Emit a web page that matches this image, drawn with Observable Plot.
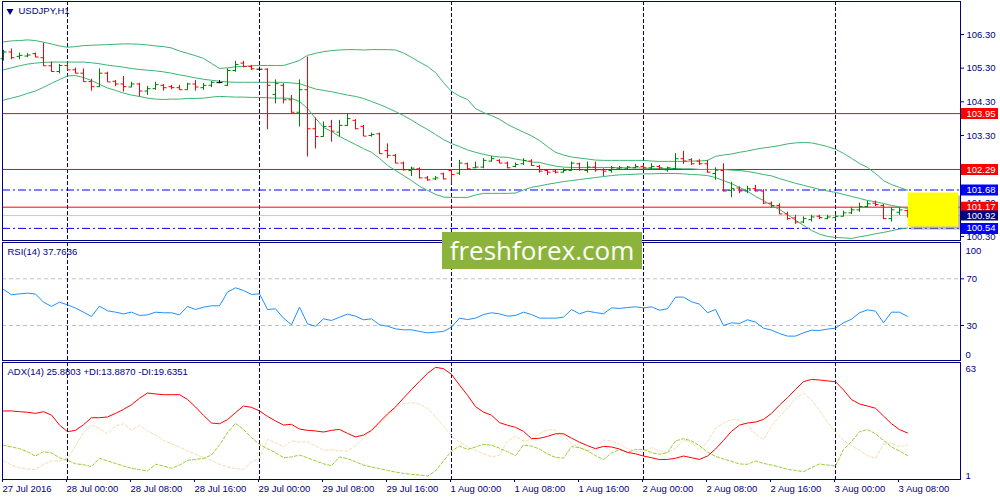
<!DOCTYPE html>
<html>
<head>
<meta charset="utf-8">
<script src="https://cdn.jsdelivr.net/npm/d3@7"></script>
<script src="https://cdn.jsdelivr.net/npm/@observablehq/plot@0.6"></script>
<style>
  body { margin: 0; background: #fff; }
  #chart { position: relative; width: 1000px; height: 500px; overflow: hidden; }
  #chart svg { position: absolute; left: 0; }
  #wm { position: absolute; left: 442px; top: 232px; width: 200px; height: 37px; background: #8cb43c;
        color: #fff; font: 26px "Open Sans", sans-serif; line-height: 36px; text-align: center; }
</style>
</head>
<body>
<div id="chart"></div>
<script>
// USDJPY H1, 27 Jul 16:00 -> 3 Aug 09:00 (one entry per bar)
const open = [
  105.58, 105.78, 105.65, 105.66, 105.73, 105.61, 105.37, 105.20, 105.38, 105.25,
  105.15, 104.90, 104.75, 105.15, 104.91, 104.83, 104.74, 104.83, 104.62, 104.69,
  104.79, 104.75, 104.72, 104.66, 104.83, 104.72, 104.79, 104.87, 104.79, 105.23,
  105.45, 105.35, 105.27, 105.27, 104.52, 104.79, 104.36, 103.99, 104.66, 103.50,
  103.27, 103.57, 103.40, 103.60, 103.75, 103.57, 103.30, 103.35, 102.85, 102.71,
  102.48, 102.26, 102.31, 102.04, 102.01, 102.16, 102.26, 102.18, 102.46, 102.34,
  102.36, 102.54, 102.56, 102.48, 102.38, 102.46, 102.54, 102.38, 102.26, 102.24,
  102.21, 102.26, 102.46, 102.26, 102.36, 102.28, 102.26, 102.31, 102.31, 102.34,
  102.38, 102.34, 102.38, 102.28, 102.31, 102.61, 102.58, 102.54, 102.46, 102.17,
  102.26, 101.67, 101.74, 101.65, 101.72, 101.65, 101.29, 101.22, 100.97, 100.85,
  100.73, 100.80, 100.90, 100.83, 100.86, 100.90, 101.00, 101.09, 101.19, 101.29,
  101.22, 100.83, 101.02, 101.07]
const high = [
  105.83, 105.87, 105.75, 105.73, 105.75, 106.04, 105.48, 105.41, 105.43, 105.30,
  105.28, 104.97, 105.28, 105.18, 104.93, 105.05, 104.88, 104.85, 104.76, 104.88,
  104.81, 104.79, 104.79, 104.85, 104.93, 104.84, 104.90, 104.93, 105.28, 105.50,
  105.50, 105.38, 105.33, 105.28, 104.95, 104.84, 104.49, 104.95, 105.63, 103.82,
  103.70, 103.75, 103.75, 103.94, 103.77, 103.60, 103.37, 103.37, 103.05, 102.74,
  102.51, 102.36, 102.34, 102.08, 102.08, 102.18, 102.28, 102.56, 102.48, 102.51,
  102.61, 102.68, 102.58, 102.51, 102.48, 102.61, 102.58, 102.41, 102.28, 102.28,
  102.31, 102.51, 102.48, 102.51, 102.51, 102.31, 102.38, 102.38, 102.38, 102.44,
  102.41, 102.46, 102.41, 102.36, 102.76, 102.83, 102.61, 102.58, 102.56, 102.34,
  102.46, 101.91, 101.77, 101.79, 101.82, 101.69, 101.32, 101.27, 101.02, 100.93,
  100.88, 100.93, 100.93, 100.93, 100.95, 101.05, 101.15, 101.29, 101.35, 101.35,
  101.25, 101.15, 101.15, 101.09]
const low = [
  105.51, 105.55, 105.55, 105.61, 105.61, 105.35, 105.18, 105.13, 105.23, 105.13,
  104.88, 104.62, 104.72, 104.88, 104.75, 104.59, 104.72, 104.44, 104.49, 104.64,
  104.62, 104.66, 104.64, 104.64, 104.62, 104.64, 104.72, 104.84, 104.75, 105.18,
  105.31, 105.23, 105.21, 103.47, 104.24, 104.24, 103.96, 103.55, 102.66, 102.90,
  103.25, 103.10, 103.25, 103.57, 103.47, 103.27, 103.25, 102.74, 102.61, 102.46,
  102.24, 102.08, 102.01, 101.94, 101.96, 101.98, 101.86, 102.11, 102.26, 102.31,
  102.31, 102.51, 102.46, 102.31, 102.34, 102.41, 102.38, 102.18, 102.11, 102.16,
  102.18, 102.24, 102.24, 102.18, 102.21, 102.08, 102.18, 102.26, 102.26, 102.31,
  102.26, 102.28, 102.26, 102.21, 102.26, 102.44, 102.41, 102.41, 102.18, 101.97,
  101.62, 101.45, 101.57, 101.57, 101.62, 101.25, 101.15, 100.95, 100.78, 100.66,
  100.68, 100.73, 100.80, 100.80, 100.80, 100.88, 100.95, 101.02, 101.15, 101.19,
  100.80, 100.73, 100.93, 100.85]
const close = [
  105.78, 105.61, 105.68, 105.69, 105.63, 105.37, 105.20, 105.38, 105.25, 105.15,
  104.90, 104.75, 105.15, 104.89, 104.83, 104.75, 104.83, 104.62, 104.69, 104.81,
  104.72, 104.72, 104.66, 104.83, 104.74, 104.79, 104.88, 104.87, 105.23, 105.41,
  105.35, 105.28, 105.27, 104.79, 104.84, 104.36, 103.99, 104.66, 103.50, 103.27,
  103.57, 103.43, 103.60, 103.80, 103.50, 103.28, 103.33, 102.76, 102.71, 102.48,
  102.28, 102.33, 102.04, 101.98, 102.04, 102.01, 102.14, 102.48, 102.31, 102.36,
  102.56, 102.61, 102.48, 102.34, 102.44, 102.56, 102.41, 102.24, 102.21, 102.21,
  102.26, 102.48, 102.28, 102.36, 102.28, 102.24, 102.34, 102.34, 102.36, 102.38,
  102.34, 102.38, 102.34, 102.34, 102.61, 102.54, 102.46, 102.46, 102.21, 102.27,
  101.65, 101.72, 101.65, 101.72, 101.65, 101.29, 101.22, 100.97, 100.83, 100.73,
  100.83, 100.88, 100.86, 100.88, 100.90, 101.00, 101.09, 101.19, 101.27, 101.25,
  100.83, 101.09, 101.09, 100.92]

// Bollinger bands
const bbUpper = [
  106.08, 106.11, 106.12, 106.14, 106.12, 106.07, 106.02, 105.96, 105.92, 105.94,
  105.97, 105.98, 105.99, 106.00, 106.01, 106.02, 106.02, 106.01, 105.99, 105.96,
  105.94, 105.90, 105.81, 105.74, 105.67, 105.59, 105.44, 105.29, 105.31, 105.34,
  105.35, 105.37, 105.38, 105.38, 105.38, 105.38, 105.45, 105.53, 105.68, 105.74,
  105.79, 105.82, 105.84, 105.85, 105.85, 105.84, 105.85, 105.85, 105.85, 105.84,
  105.75, 105.62, 105.48, 105.35, 105.17, 104.87, 104.61, 104.47, 104.37, 104.10,
  103.98, 103.89, 103.78, 103.63, 103.51, 103.40, 103.29, 103.15, 102.97, 102.80,
  102.72, 102.66, 102.63, 102.60, 102.57, 102.56, 102.56, 102.56, 102.56, 102.56,
  102.56, 102.54, 102.53, 102.53, 102.53, 102.53, 102.54, 102.54, 102.56, 102.68,
  102.72, 102.75, 102.80, 102.84, 102.89, 102.93, 102.96, 103.00, 103.05, 103.08,
  103.09, 103.08, 103.03, 102.97, 102.89, 102.77, 102.62, 102.47, 102.35, 102.17,
  101.96, 101.84, 101.76, 101.67]
const bbMiddle = [
  105.25, 105.31, 105.37, 105.42, 105.45, 105.47, 105.48, 105.48, 105.48, 105.48,
  105.48, 105.46, 105.43, 105.39, 105.36, 105.33, 105.29, 105.26, 105.24, 105.22,
  105.19, 105.15, 105.10, 105.06, 105.01, 104.97, 104.94, 104.91, 104.89, 104.88,
  104.88, 104.88, 104.88, 104.88, 104.88, 104.88, 104.86, 104.84, 104.76, 104.68,
  104.64, 104.60, 104.55, 104.50, 104.46, 104.40, 104.31, 104.22, 104.12, 104.01,
  103.89, 103.76, 103.61, 103.48, 103.33, 103.18, 103.06, 102.97, 102.87, 102.80,
  102.74, 102.69, 102.66, 102.65, 102.60, 102.56, 102.51, 102.50, 102.44, 102.39,
  102.36, 102.35, 102.35, 102.35, 102.35, 102.35, 102.35, 102.34, 102.34, 102.34,
  102.33, 102.32, 102.32, 102.32, 102.32, 102.31, 102.31, 102.29, 102.29, 102.29,
  102.29, 102.27, 102.26, 102.23, 102.19, 102.14, 102.10, 102.02, 101.95, 101.88,
  101.82, 101.76, 101.70, 101.65, 101.61, 101.55, 101.49, 101.43, 101.37, 101.33,
  101.28, 101.22, 101.18, 101.13]
const bbLower = [
  104.35, 104.41, 104.47, 104.55, 104.62, 104.73, 104.85, 104.96, 105.07, 105.08,
  105.02, 104.93, 104.82, 104.71, 104.64, 104.56, 104.50, 104.46, 104.41, 104.38,
  104.37, 104.38, 104.38, 104.40, 104.40, 104.41, 104.44, 104.46, 104.45, 104.44,
  104.44, 104.43, 104.43, 104.42, 104.41, 104.41, 104.40, 104.31, 104.10, 103.81,
  103.54, 103.42, 103.27, 103.15, 103.03, 102.91, 102.80, 102.62, 102.41, 102.26,
  102.11, 101.96, 101.79, 101.67, 101.55, 101.47, 101.46, 101.46, 101.46, 101.53,
  101.58, 101.58, 101.58, 101.58, 101.59, 101.68, 101.76, 101.80, 101.85, 101.89,
  101.93, 101.96, 101.99, 102.02, 102.05, 102.08, 102.11, 102.13, 102.14, 102.15,
  102.16, 102.16, 102.17, 102.17, 102.17, 102.16, 102.14, 102.13, 102.11, 102.05,
  101.96, 101.87, 101.76, 101.64, 101.49, 101.37, 101.22, 101.10, 100.95, 100.78,
  100.63, 100.48, 100.37, 100.30, 100.27, 100.26, 100.24, 100.29, 100.33, 100.38,
  100.42, 100.47, 100.52, 100.55]

// RSI(14)
const rsi = [
  60.9, 56.3, 57.1, 57.7, 56.9, 50.0, 46.3, 50.0, 47.7, 44.9,
  41.4, 37.7, 46.6, 42.6, 41.4, 40.0, 41.4, 38.6, 39.1, 41.4,
  40.9, 40.9, 39.1, 46.3, 43.7, 45.7, 46.9, 46.9, 58.6, 62.3,
  60.0, 56.6, 57.1, 43.7, 44.3, 36.3, 30.6, 45.7, 31.4, 29.4,
  35.7, 34.3, 37.1, 39.7, 38.0, 34.9, 35.7, 30.6, 29.4, 27.1,
  26.3, 26.3, 24.9, 23.7, 24.3, 24.9, 28.6, 36.3, 35.1, 36.3,
  39.4, 40.9, 40.0, 38.0, 38.6, 41.4, 39.4, 36.3, 36.3, 36.3,
  37.1, 43.7, 40.0, 42.3, 41.1, 40.0, 45.1, 44.6, 45.4, 46.0,
  45.1, 46.0, 43.1, 44.3, 54.3, 54.3, 50.3, 48.3, 40.9, 43.7,
  30.0, 32.3, 31.7, 34.9, 32.9, 27.7, 26.0, 23.1, 20.9, 20.9,
  23.7, 26.0, 25.7, 26.9, 27.7, 32.3, 35.4, 40.9, 43.4, 42.3,
  32.3, 41.4, 41.4, 37.8]

// ADX(14), +DI, -DI
const adx = [
  37.6, 37.6, 37.2, 36.9, 36.3, 37.2, 35.4, 30.1, 26.6, 27.3,
  30.3, 34.0, 34.0, 34.4, 36.3, 38.4, 40.9, 44.3, 47.1, 46.6,
  46.2, 46.2, 46.2, 43.7, 39.7, 35.3, 31.2, 30.8, 33.0, 36.7,
  40.2, 39.5, 37.6, 34.7, 32.3, 30.1, 30.5, 28.0, 27.3, 27.0,
  26.4, 27.3, 27.8, 25.7, 23.8, 24.8, 27.3, 31.7, 36.0, 39.7,
  44.4, 48.9, 53.3, 57.5, 60.7, 60.0, 57.0, 51.3, 45.9, 39.9,
  37.0, 35.3, 31.4, 30.0, 28.9, 26.8, 22.9, 23.1, 24.1, 25.5,
  25.5, 23.2, 21.0, 19.2, 17.6, 18.8, 18.5, 17.4, 15.6, 14.9,
  13.7, 12.8, 11.8, 11.9, 12.5, 13.7, 12.8, 11.9, 13.7, 17.4,
  22.0, 26.8, 30.1, 31.2, 31.7, 33.1, 36.3, 40.7, 44.6, 49.0,
  53.1, 54.3, 54.0, 53.5, 53.1, 48.7, 43.6, 41.3, 40.2, 39.0,
  34.9, 30.8, 27.7, 25.9]
const plusDI = [
  19.4, 18.5, 17.6, 16.0, 13.7, 16.0, 15.3, 12.8, 11.4, 9.6,
  9.1, 8.1, 12.5, 11.1, 9.8, 8.4, 7.2, 6.5, 5.8, 9.3,
  8.4, 7.2, 8.9, 11.4, 11.9, 12.5, 14.2, 19.5, 26.1, 31.0,
  27.8, 23.4, 19.9, 17.6, 15.5, 12.8, 13.2, 14.2, 12.8, 11.1,
  9.6, 8.6, 13.2, 12.3, 10.7, 8.9, 7.9, 7.0, 6.1, 5.2,
  4.5, 4.0, 3.6, 3.1, 5.8, 11.1, 16.4, 19.0, 17.2, 18.5,
  19.9, 19.5, 17.8, 16.0, 13.9, 19.5, 19.0, 17.4, 14.8, 13.0,
  12.5, 18.7, 18.1, 16.5, 13.9, 11.8, 15.3, 17.1, 15.7, 17.2,
  17.2, 15.5, 14.6, 15.5, 21.7, 22.9, 21.7, 19.2, 15.7, 13.5,
  12.1, 10.9, 9.5, 9.3, 11.1, 9.8, 8.9, 7.9, 6.6, 6.1,
  5.4, 7.5, 9.5, 8.9, 8.4, 17.2, 21.3, 26.6, 27.7, 25.5,
  22.0, 18.5, 16.4, 13.9]
const minusDI = [
  11.1, 8.9, 7.5, 6.8, 6.5, 9.3, 11.1, 11.1, 12.5, 19.0,
  26.1, 30.1, 28.2, 25.5, 29.6, 30.8, 27.3, 30.1, 27.0, 24.8,
  22.0, 20.2, 18.5, 16.4, 14.6, 12.8, 11.4, 9.3, 7.9, 7.0,
  6.6, 10.5, 12.5, 22.5, 20.8, 18.5, 21.7, 21.0, 21.3, 19.0,
  16.7, 17.1, 16.4, 16.4, 19.0, 23.4, 27.0, 30.8, 34.9, 39.3,
  41.4, 42.0, 41.1, 39.0, 34.4, 29.6, 24.3, 21.1, 18.5, 16.7,
  15.0, 13.2, 14.1, 21.7, 24.1, 21.7, 22.4, 25.7, 27.7, 27.3,
  24.7, 20.1, 18.5, 16.5, 17.6, 22.2, 21.7, 20.1, 17.6, 16.0,
  16.4, 18.1, 16.5, 15.5, 17.8, 22.2, 21.0, 16.7, 21.3, 28.4,
  31.2, 33.0, 32.8, 30.0, 25.5, 22.5, 29.6, 34.6, 39.1, 44.3,
  47.1, 43.4, 37.9, 31.7, 26.1, 22.0, 19.2, 16.7, 13.9, 12.5,
  19.9, 20.8, 18.5, 19.6]

// time axis (bar index -> label), day separators
const xTicks = [0, 8, 16, 24, 32, 40, 48, 56, 64, 72, 80, 88, 96, 104, 112]
const xLabels = ['27 Jul 2016', '28 Jul 00:00', '28 Jul 08:00', '28 Jul 16:00', '29 Jul 00:00',
  '29 Jul 08:00', '29 Jul 16:00', '1 Aug 00:00', '1 Aug 08:00', '1 Aug 16:00', '2 Aug 00:00',
  '2 Aug 08:00', '2 Aug 16:00', '3 Aug 00:00', '3 Aug 08:00']
const daySep = [8, 32, 56, 80, 104]

// price axis and levels
const priceTicks = [106.3, 105.3, 104.3, 103.3, 102.3, 101.3, 100.3]
const redLevels = [103.95, 102.29, 101.17]
const blueLevels = [101.68, 100.54]
const bidLevel = [100.92]
const zoneX = [113.1, 119.4]
const zoneY = [100.58, 101.59]

const rsiLevels = [70, 30]
const title = 'USDJPY,H1'
const rsiLabel = 'RSI(14) 37.7636'
const adxLabel = 'ADX(14) 25.8803 +DI:13.8870 -DI:19.6351'

const navy = '#000080'
const rows = open.map((o, i) => ({
  i, o, h: high[i], l: low[i], c: close[i],
  up: bbUpper[i], mid: bbMiddle[i], lo: bbLower[i],
  rsi: rsi[i], adx: adx[i], pdi: plusDI[i], mdi: minusDI[i],
}))
const barColor = d => (d.c > d.o ? '#008000' : d.c < d.o ? '#ff0000' : '#000000')

const common = {
  width: 1000,
  marginLeft: 2,
  marginRight: 40,
  x: { domain: [-0.125, 119.625], axis: null },
  style: { fontFamily: '"Liberation Sans", Arial, sans-serif', fontSize: '9.5px', background: 'transparent', overflow: 'visible' },
}
const sep = Plot.ruleX(daySep, { stroke: navy, strokeDasharray: '4,2' })

// --- price window
const main = Plot.plot({
  ...common,
  height: 241,
  marginTop: 1,
  marginBottom: 1,
  y: { domain: [100.18, 107.28], axis: null },
  marks: [
    sep,
    Plot.ruleY(redLevels, { stroke: '#ff0000' }),
    Plot.ruleY(blueLevels, { stroke: '#0000ff', strokeDasharray: '8,3,2,3' }),
    Plot.ruleY(bidLevel, { stroke: '#c8c8c8' }),
    Plot.line(rows, { x: 'i', y: 'up', stroke: '#3cb371', strokeWidth: 1 }),
    Plot.line(rows, { x: 'i', y: 'mid', stroke: '#3cb371', strokeWidth: 1 }),
    Plot.line(rows, { x: 'i', y: 'lo', stroke: '#3cb371', strokeWidth: 1 }),
    Plot.ruleX(rows, { x: 'i', y1: 'l', y2: 'h', stroke: barColor }),
    Plot.link(rows, { x1: d => d.i - 0.375, x2: 'i', y1: 'o', y2: 'o', stroke: barColor }),
    Plot.link(rows, { x1: 'i', x2: d => d.i + 0.375, y1: 'c', y2: 'c', stroke: barColor }),
    Plot.rect([0], { x1: () => zoneX[0], x2: () => zoneX[1], y1: () => zoneY[0], y2: () => zoneY[1], fill: '#808080', fillOpacity: 0.55, dx: 3, dy: 3 }),
    Plot.rect([0], { x1: () => zoneX[0], x2: () => zoneX[1], y1: () => zoneY[0], y2: () => zoneY[1], fill: '#ffff00' }),
    Plot.frame({ stroke: navy }),
    Plot.axisY(priceTicks, { anchor: 'right', label: null, tickSize: 3, tickPadding: 3, tickFormat: d3.format('.2f'), color: navy }),
    Plot.ruleY(redLevels, { stroke: '#ff0000', strokeWidth: 11, insetLeft: 959, insetRight: -38 }),
    Plot.ruleY(blueLevels, { stroke: '#0000ff', strokeWidth: 11, insetLeft: 959, insetRight: -38 }),
    Plot.ruleY(bidLevel, { stroke: navy, strokeWidth: 10, insetLeft: 959, insetRight: -38 }),
    Plot.text([...redLevels, ...blueLevels, ...bidLevel], { y: d => d, text: d => d.toFixed(2), frameAnchor: 'right', textAnchor: 'start', dx: 6, fill: 'white' }),
    Plot.dot([title], { frameAnchor: 'top-left', dx: 7.5, dy: 9.5, symbol: 'triangle', r: 2.6, rotate: 180, fill: navy, stroke: 'none' }),
    Plot.text([title], { frameAnchor: 'top-left', textAnchor: 'start', dx: 16, dy: 6, fill: navy }),
  ],
})

// --- RSI window
const rsiPlot = Plot.plot({
  ...common,
  height: 121,
  marginTop: 1,
  marginBottom: 2,
  y: { domain: [0, 101.11], axis: null },
  marks: [
    Plot.ruleY(rsiLevels, { stroke: '#c0c0c0', strokeDasharray: '4,3' }),
    sep,
    Plot.line(rows, { x: 'i', y: 'rsi', stroke: '#1e90ff', strokeWidth: 1 }),
    Plot.frame({ stroke: navy }),
    Plot.axisY(rsiLevels, { anchor: 'right', label: null, tickSize: 3, tickPadding: 3, color: navy }),
    Plot.text(['100'], { frameAnchor: 'top-right', textAnchor: 'start', dx: 5, dy: 5, fill: navy }),
    Plot.text(['0'], { frameAnchor: 'bottom-right', textAnchor: 'start', dx: 5, dy: -3, fill: navy }),
    Plot.text([rsiLabel], { frameAnchor: 'top-left', textAnchor: 'start', dx: 5, dy: 6, fill: navy }),
  ],
})

// --- ADX window + time axis
const adxPlot = Plot.plot({
  ...common,
  height: 140,
  marginTop: 2,
  marginBottom: 21,
  y: { domain: [1.26, 63.26], axis: null },
  marks: [
    sep,
    Plot.line(rows, { x: 'i', y: 'mdi', stroke: '#f5deb3', strokeWidth: 1, strokeDasharray: '3,2' }),
    Plot.line(rows, { x: 'i', y: 'pdi', stroke: '#9acd32', strokeWidth: 1, strokeDasharray: '3,2' }),
    Plot.line(rows, { x: 'i', y: 'adx', stroke: '#ff0000', strokeWidth: 1 }),
    Plot.frame({ stroke: navy }),
    Plot.axisX(xTicks, { anchor: 'bottom', label: null, tickSize: 3, tickPadding: 3, textAnchor: 'start', dx: -1, color: navy, tickFormat: d => xLabels[xTicks.indexOf(d)] }),
    Plot.text(['63'], { frameAnchor: 'top-right', textAnchor: 'start', dx: 5, dy: 3, fill: navy }),
    Plot.text(['1'], { frameAnchor: 'bottom-right', textAnchor: 'start', dx: 5, dy: -1, fill: navy }),
    Plot.text([adxLabel], { frameAnchor: 'top-left', textAnchor: 'start', dx: 5, dy: 6, fill: navy }),
  ],
})

const chart = d3.select('#chart')
chart.append(() => main).style('top', '0px')
chart.append(() => rsiPlot).style('top', '241px')
chart.append(() => adxPlot).style('top', '360px')
chart.append('div').attr('id', 'wm').text('freshforex.com')
</script>
</body>
</html>
